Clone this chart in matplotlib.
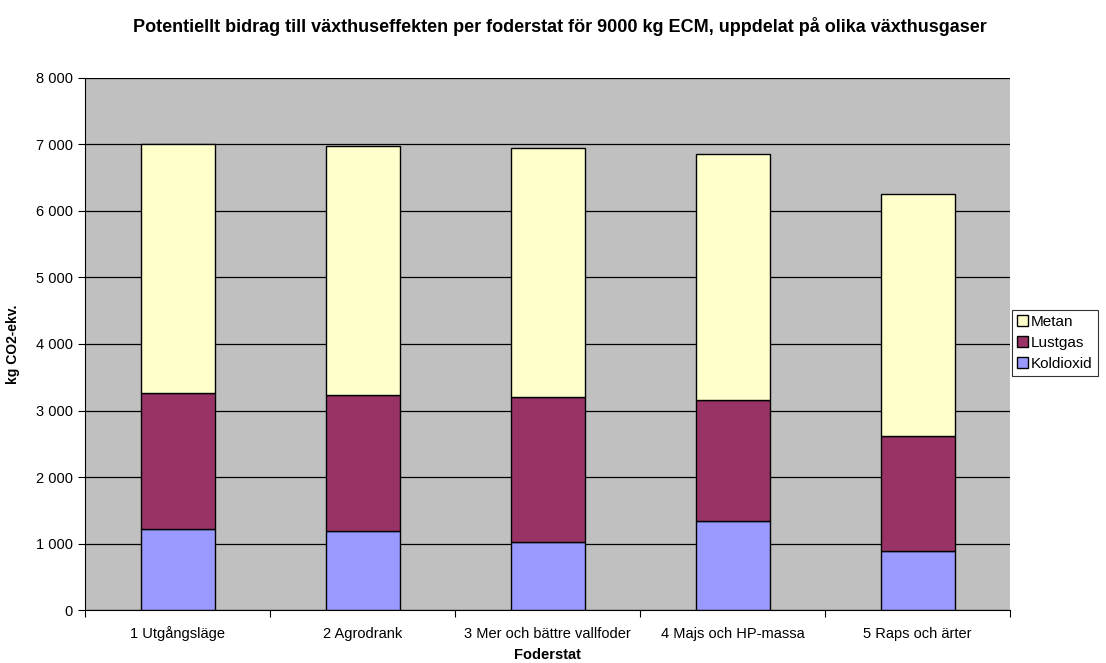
import numpy as np
import matplotlib.pyplot as plt
from matplotlib.ticker import FuncFormatter

plt.rcParams['font.family'] = ['Liberation Sans', 'DejaVu Sans']

# data (kg CO2-ekv.)
kategorier = ["1 Utgångsläge", "2 Agrodrank", "3 Mer och bättre vallfoder",
              "4 Majs och HP-massa", "5 Raps och ärter"]
koldioxid = [1223, 1193, 1018, 1338, 892]
lustgas = [2040, 2035, 2190, 1820, 1725]
metan = [3742, 3752, 3732, 3699, 3639]

fig = plt.figure(figsize=(11.06, 6.63), dpi=100)
ax = fig.add_axes([0.0769, 0.0799, 0.8363, 0.8025])
ax.set_facecolor('#C0C0C0')

x = np.arange(len(kategorier)) + 0.5
b1 = np.array(koldioxid)
b2 = b1 + np.array(lustgas)
ax.bar(x, koldioxid, width=0.4, color='#9999FF', edgecolor='black', linewidth=1, label='Koldioxid', zorder=3)
ax.bar(x, lustgas, width=0.4, bottom=b1, color='#993366', edgecolor='black', linewidth=1, label='Lustgas', zorder=3)
ax.bar(x, metan, width=0.4, bottom=b2, color='#FFFFCC', edgecolor='black', linewidth=1, label='Metan', zorder=3)

ax.set_xlim(0, 5)
ax.set_ylim(0, 8000)
ax.set_yticks(range(0, 8001, 1000))
ax.yaxis.set_major_formatter(FuncFormatter(lambda v, p: '{:,}'.format(int(v)).replace(',', ' ')))
ax.grid(axis='y', color='black', linewidth=0.9, zorder=1)
ax.set_xticks(range(0, 6))
ax.set_xticklabels([])
ax.set_xticks(x, minor=True)
ax.set_xticklabels(kategorier, minor=True)
ax.tick_params(axis='x', which='minor', length=0, pad=20, labelsize=10.5)
for lbl in ax.get_xticklabels(minor=True):
    lbl.set_verticalalignment('baseline')
ax.tick_params(axis='x', which='major', length=5, direction='out')
ax.tick_params(axis='y', length=5, labelsize=10.5, pad=4)
ax.spines['right'].set_visible(False)
ax.spines['top'].set_visible(False)

ax.set_xlabel("Foderstat", fontsize=10.5, fontweight='bold', labelpad=5)
ax.set_ylabel("kg CO2-ekv.", fontsize=10, fontweight='bold', labelpad=11)
fig.suptitle("Potentiellt bidrag till växthuseffekten per foderstat för 9000 kg ECM, uppdelat på olika växthusgaser",
             fontsize=13, fontweight='bold', x=0.506, y=0.975)

h, l = ax.get_legend_handles_labels()
leg = fig.legend(h[::-1], l[::-1], loc='upper left', bbox_to_anchor=(0.9150, 0.533),
                 fontsize=11, frameon=True, fancybox=False, edgecolor='black',
                 handlelength=0.7, handleheight=0.7, handletextpad=0.2,
                 borderpad=0.35, labelspacing=0.45, borderaxespad=0)
leg.get_frame().set_linewidth(0.8)

fig.savefig('out.png', dpi=100)
